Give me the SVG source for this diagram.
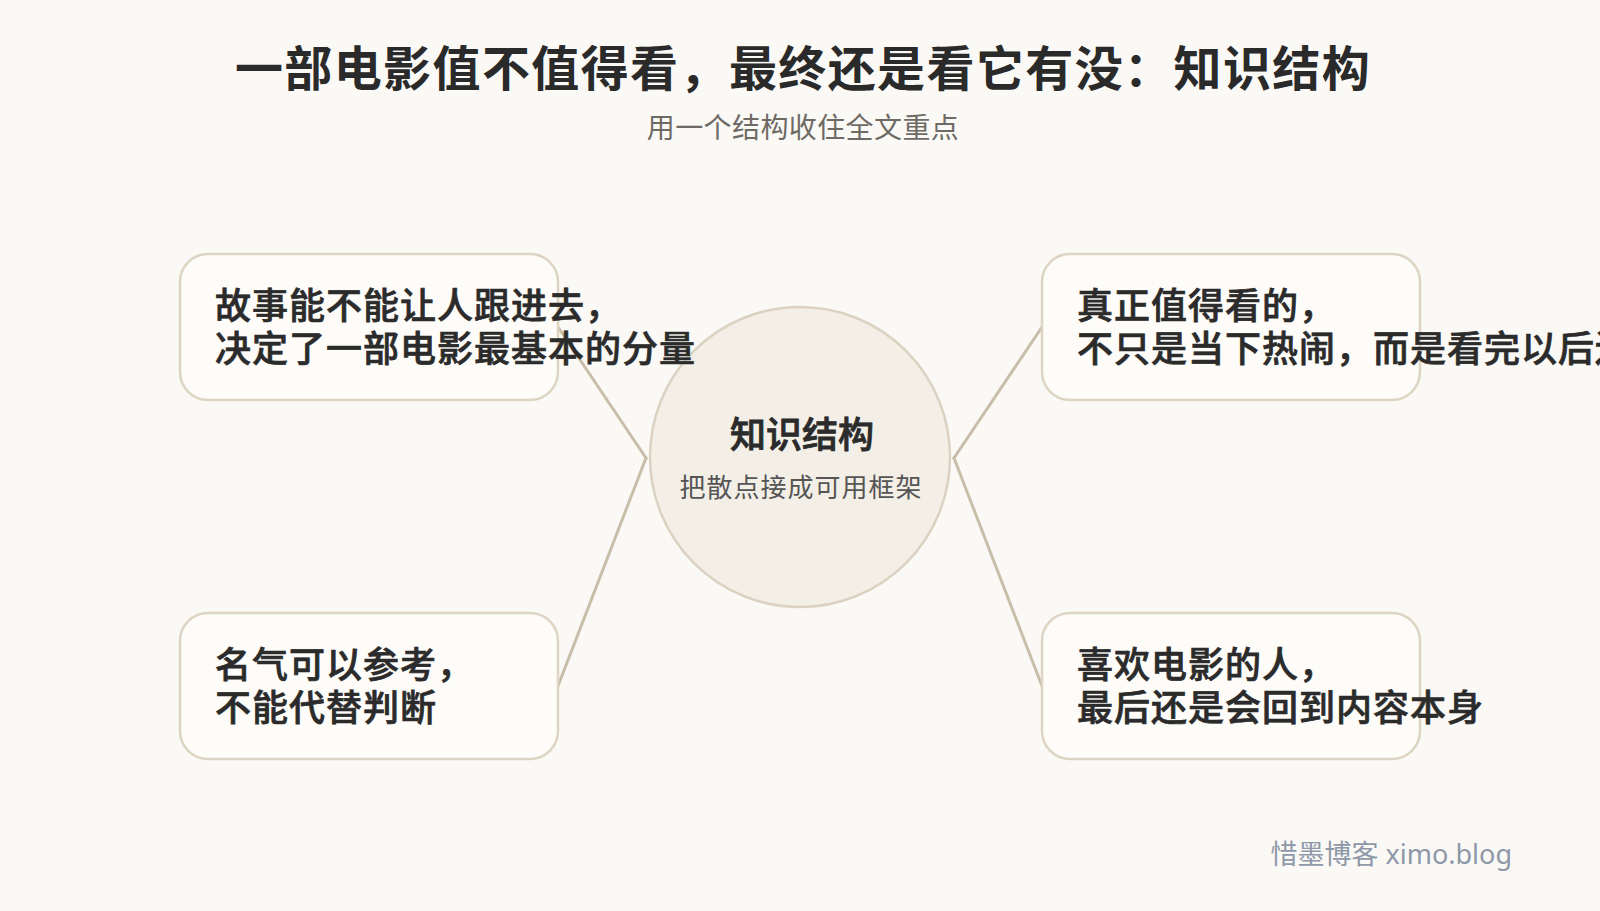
<svg xmlns="http://www.w3.org/2000/svg" width="1600" height="911" viewBox="0 0 1600 911">
<style>
.cjk{font-family:"Noto Sans CJK SC","Noto Sans",sans-serif}
.title{font-size:48px;font-weight:700;fill:#2a2a2a;letter-spacing:1.4px}
.sub{font-size:28px;fill:#6e6a64;letter-spacing:0.4px}
.box{fill:#fdfcf9;stroke:#ddd4c4;stroke-width:2.5}
.btxt{font-size:36px;font-weight:500;fill:#2b2b2b;stroke:#2b2b2b;stroke-width:0.7;letter-spacing:1px}
.conn{stroke:#c9bea9;stroke-width:3;fill:none;stroke-linecap:round}
.hub{fill:#f3efe7;stroke:#dbd2c2;stroke-width:2.5}
.htitle{font-size:36px;font-weight:500;fill:#2b2b2b;stroke:#2b2b2b;stroke-width:0.8}
.hsub{font-size:26px;fill:#555;letter-spacing:1px}
.wm{font-family:"Noto Sans","Noto Sans CJK SC",sans-serif;font-size:27px;fill:#8e98a8}
</style>
<rect width="1600" height="911" fill="#faf9f6"/>
<g id="title">
<text class="cjk title" x="803" y="86" text-anchor="middle">一部电影值不值得看，最终还是看它有没：知识结构</text>
<text class="cjk sub" x="803" y="138" text-anchor="middle">用一个结构收住全文重点</text>
</g>
<g id="connectors">
<line class="conn" x1="558" y1="327" x2="646" y2="458"/>
<line class="conn" x1="646" y1="458" x2="558" y2="686"/>
<line class="conn" x1="1042" y1="327" x2="954" y2="458"/>
<line class="conn" x1="954" y1="458" x2="1042" y2="686"/>
</g>
<g id="hub">
<circle class="hub" cx="800" cy="457" r="150"/>
<text class="cjk htitle" x="802" y="448" text-anchor="middle">知识结构</text>
<text class="cjk hsub" x="801" y="497" text-anchor="middle">把散点接成可用框架</text>
</g>
<g id="node-tl">
<rect class="box" x="180" y="254" width="378" height="146" rx="28"/>
<text class="cjk btxt" x="215" y="319">故事能不能让人跟进去，</text>
<text class="cjk btxt" x="215" y="362">决定了一部电影最基本的分量</text>
</g>
<g id="node-bl">
<rect class="box" x="180" y="613" width="378" height="146" rx="28"/>
<text class="cjk btxt" x="215" y="678">名气可以参考，</text>
<text class="cjk btxt" x="215" y="721">不能代替判断</text>
</g>
<g id="node-tr">
<rect class="box" x="1042" y="254" width="378" height="146" rx="28"/>
<text class="cjk btxt" x="1077" y="319">真正值得看的，</text>
<text class="cjk btxt" x="1077" y="362">不只是当下热闹，而是看完以后还会想起</text>
</g>
<g id="node-br">
<rect class="box" x="1042" y="613" width="378" height="146" rx="28"/>
<text class="cjk btxt" x="1077" y="678">喜欢电影的人，</text>
<text class="cjk btxt" x="1077" y="721">最后还是会回到内容本身</text>
</g>
<g id="watermark">
<text class="wm" x="1512" y="864" text-anchor="end">惜墨博客 ximo.blog</text>
</g>
</svg>
